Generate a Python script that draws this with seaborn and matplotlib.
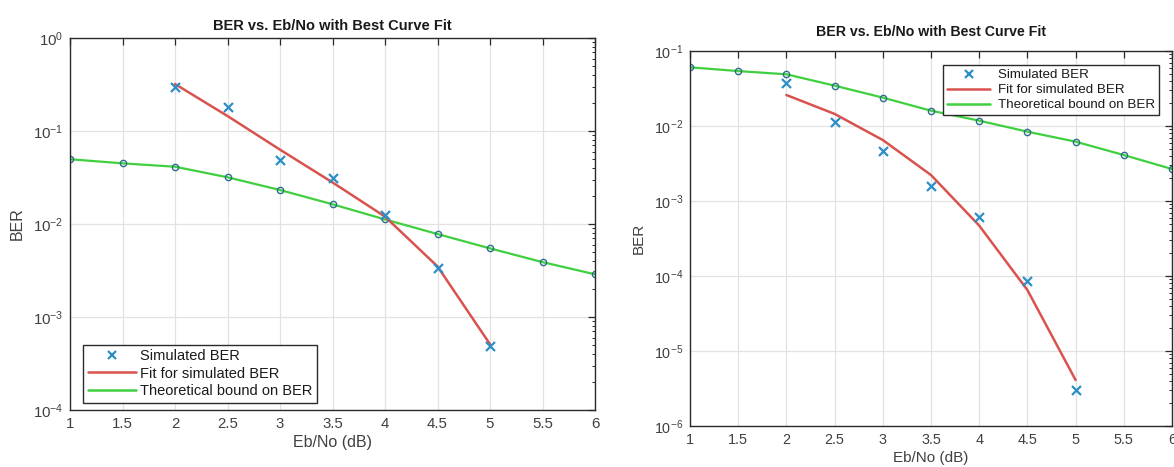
import matplotlib
matplotlib.use("Agg")
import numpy as np
import pandas as pd
import seaborn as sns
import matplotlib.pyplot as plt
from matplotlib.ticker import LogLocator, NullFormatter, MultipleLocator, LogFormatterSciNotation
from matplotlib.lines import Line2D

# ---------------- data ----------------
eb_no = [1.0, 1.5, 2.0, 2.5, 3.0, 3.5, 4.0, 4.5, 5.0, 5.5, 6.0]
sim_eb_no = [2.0, 2.5, 3.0, 3.5, 4.0, 4.5, 5.0]

left_sim = [0.30, 0.18, 0.0483, 0.0316, 0.0125, 0.00336, 0.00049]
left_fit = [0.32, 0.145, 0.063, 0.028, 0.012, 0.0035, 0.00051]
left_theory = [0.0497, 0.0449, 0.0413, 0.0318, 0.0232, 0.0163, 0.0112,
               0.0078, 0.00547, 0.00389, 0.00288]

right_sim = [0.0378, 0.0114, 0.00464, 0.0016, 0.00061, 8.65e-5, 3.0e-6]
right_fit = [0.0259, 0.0145, 0.0065, 0.00222, 0.00047, 6.5e-5, 4.1e-6]
right_theory = [0.0606, 0.054, 0.0489, 0.0345, 0.0239, 0.016, 0.01178,
                0.0084, 0.00618, 0.0041, 0.00267]

title = "BER vs. Eb/No with Best Curve Fit"
legend_labels = ["Simulated BER", "Fit for simulated BER", "Theoretical bound on BER"]
xlabel = "Eb/No (dB)"
ylabel = "BER"

# ---------------- style ----------------
sns.set_theme(style="white")
plt.rcParams['font.family'] = ['Liberation Sans', 'DejaVu Sans']
plt.rcParams['mathtext.default'] = 'regular'

C_SIM = '#2b8ec6'
C_FIT = '#d9534e'
C_TH = '#3fcf3f'
C_CIRC = '#2c6f8c'
C_AX = '#2a2a2a'
C_TXT = '#404040'

W, H = 1174, 467
fig = plt.figure(figsize=(W / 100, H / 100), dpi=100)
fig.patch.set_facecolor('white')


def make_panel(rect, sim, fit, theory, ylim, tfs, tpad, lfs, fs, leg_kw):
    ax = fig.add_axes(rect)
    sim_df = pd.DataFrame({'x': sim_eb_no, 'y': sim})
    fit_df = pd.DataFrame({'x': sim_eb_no, 'y': fit})
    th_df = pd.DataFrame({'x': eb_no, 'y': theory})

    sns.lineplot(data=th_df, x='x', y='y', ax=ax, color=C_TH, lw=1.6,
                 estimator=None, sort=False, marker='o', markersize=4.5,
                 markerfacecolor='none', markeredgecolor=C_CIRC,
                 markeredgewidth=1.0, zorder=2)
    sns.lineplot(data=fit_df, x='x', y='y', ax=ax, color=C_FIT, lw=1.8,
                 estimator=None, sort=False, zorder=3)
    sns.scatterplot(data=sim_df, x='x', y='y', ax=ax, marker='x', s=42,
                    color=C_SIM, linewidth=1.6, zorder=4)

    ax.set_yscale('log')
    ax.set_xlim(1, 6)
    ax.set_ylim(*ylim)
    ax.xaxis.set_major_locator(MultipleLocator(0.5))
    ax.xaxis.set_major_formatter(matplotlib.ticker.FuncFormatter(
        lambda v, p: ('%g' % v)))
    ax.yaxis.set_major_locator(LogLocator(base=10, numticks=20))
    ax.yaxis.set_minor_locator(LogLocator(base=10, subs=np.arange(2, 10), numticks=20))
    ax.yaxis.set_minor_formatter(NullFormatter())
    ax.yaxis.set_major_formatter(LogFormatterSciNotation())

    ax.grid(True, which='major', color='#e2e2e2', lw=0.9)
    ax.set_axisbelow(True)
    for s in ax.spines.values():
        s.set_color(C_AX)
        s.set_linewidth(1.0)
        s.set_visible(True)
    ax.tick_params(which='both', direction='in', top=True, right=True,
                   color=C_AX, labelcolor=C_TXT, labelsize=fs)
    ax.tick_params(which='major', length=5, width=0.9, pad=5)
    ax.tick_params(which='minor', length=2.5, width=0.7)

    ax.set_title(title, fontsize=tfs, fontweight='bold', color='#1a1a1a', pad=tpad)
    ax.set_xlabel(xlabel, fontsize=lfs, color=C_TXT, labelpad=3)
    ax.set_ylabel(ylabel, fontsize=lfs, color=C_TXT, labelpad=6)

    handles = [
        Line2D([], [], ls='none', marker='x', color=C_SIM, ms=6, mew=1.6),
        Line2D([], [], color=C_FIT, lw=1.8),
        Line2D([], [], color=C_TH, lw=1.8),
    ]
    leg = ax.legend(handles, legend_labels, frameon=True, fancybox=False,
                    borderaxespad=0, **leg_kw)
    leg.get_frame().set_edgecolor(C_AX)
    leg.get_frame().set_linewidth(1.0)
    leg.get_frame().set_facecolor('white')
    leg.get_frame().set_alpha(1.0)
    for t in leg.get_texts():
        t.set_color('#1a1a1a')
    return ax


# left panel: x 70..595 px, y 38..410 px
make_panel([70 / W, 1 - 410 / H, 525 / W, 372 / H],
           left_sim, left_fit, left_theory, (1e-4, 1e0),
           tfs=10.5, tpad=6, lfs=11.5, fs=10.8,
           leg_kw=dict(loc='lower left', bbox_to_anchor=(0.025, 0.02),
                       fontsize=10.5, handlelength=3.3, handletextpad=0.3,
                       labelspacing=0.25, borderpad=0.3))

# right panel: x 690..1172 px, y 51..426 px
make_panel([690 / W, 1 - 426 / H, 482 / W, 375 / H],
           right_sim, right_fit, right_theory, (1e-6, 1e-1),
           tfs=10.2, tpad=11, lfs=11, fs=10.4,
           leg_kw=dict(loc='upper right', bbox_to_anchor=(0.973, 0.963),
                       fontsize=9.6, handlelength=3.2, handletextpad=0.6,
                       labelspacing=0.2, borderpad=0.3))

fig.savefig('out.png', dpi=100, facecolor='white')
